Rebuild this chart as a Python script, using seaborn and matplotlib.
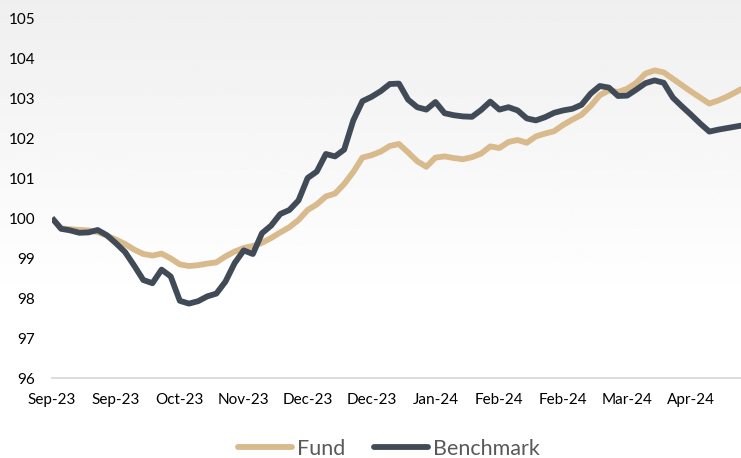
import numpy as np
import pandas as pd
import matplotlib
matplotlib.use("Agg")
import matplotlib.pyplot as plt
import matplotlib.dates as mdates
import seaborn as sns

fund = [100.00, 99.74, 99.72, 99.70, 99.69, 99.65, 99.56, 99.46, 99.35, 99.21,
        99.10, 99.06, 99.11, 98.99, 98.84, 98.80, 98.82, 98.86, 98.89, 99.04,
        99.16, 99.25, 99.30, 99.38, 99.50, 99.64, 99.77, 99.95, 100.20, 100.34,
        100.54, 100.61, 100.85, 101.15, 101.51, 101.57, 101.66, 101.80, 101.85, 101.64,
        101.42, 101.28, 101.51, 101.54, 101.50, 101.47, 101.52, 101.61, 101.79, 101.75,
        101.90, 101.95, 101.88, 102.04, 102.11, 102.17, 102.33, 102.46, 102.58, 102.80,
        103.07, 103.19, 103.15, 103.23, 103.38, 103.61, 103.69, 103.64, 103.48, 103.32,
        103.16, 103.01, 102.86, 102.94, 103.04, 103.16, 103.29]
benchmark = [100.00, 99.73, 99.69, 99.63, 99.64, 99.70, 99.57, 99.37, 99.15, 98.81,
             98.45, 98.37, 98.71, 98.54, 97.93, 97.86, 97.92, 98.04, 98.11, 98.41,
             98.87, 99.19, 99.10, 99.62, 99.81, 100.10, 100.20, 100.44, 101.00, 101.16,
             101.60, 101.54, 101.71, 102.44, 102.92, 103.03, 103.17, 103.35, 103.36, 102.96,
             102.77, 102.71, 102.90, 102.62, 102.57, 102.54, 102.53, 102.70, 102.91, 102.71,
             102.77, 102.69, 102.49, 102.44, 102.52, 102.63, 102.69, 102.73, 102.83, 103.11,
             103.30, 103.26, 103.05, 103.06, 103.21, 103.37, 103.44, 103.38, 103.01, 102.79,
             102.58, 102.36, 102.16, 102.21, 102.25, 102.29, 102.33]
dates = pd.date_range("2023-09-08", periods=len(fund), freq="3D")
series_names = ["Fund", "Benchmark"]
colors = ["#D8BA8D", "#414B58"]

df = pd.DataFrame({"Date": dates, "Fund": fund, "Benchmark": benchmark})
long = df.melt(id_vars="Date", var_name="Series", value_name="Value")

sns.set_theme(style="white")
plt.rcParams["font.family"] = ["Lato", "DejaVu Sans"]

fig = plt.figure(figsize=(7.41, 4.58), dpi=100)

# soft grey-to-white background
bg = fig.add_axes([0, 0, 1, 1], zorder=-1)
grad = np.clip(0.937 + (1 - 0.937) * np.linspace(0, 1, 300) / 0.655, 0, 1)
bg.imshow(np.repeat(grad[:, None], 2, axis=1), cmap="gray", vmin=0, vmax=1,
          aspect="auto", extent=[0, 1, 0, 1])
bg.axis("off")

ax = fig.add_axes([52 / 741, 80 / 458, 1 - 52 / 741, (378 - 18) / 458])
ax.set_facecolor("none")
sns.lineplot(data=long, x="Date", y="Value", hue="Series", hue_order=series_names,
             palette=colors, linewidth=4.2, ax=ax, legend=False)
for ln in ax.lines:
    ln.set_solid_joinstyle("round")
    ln.set_solid_capstyle("butt")

start = dates[0]
ax.set_xlim(start, start + pd.Timedelta(days=226.4))
ax.set_ylim(96, 105)
ax.set_yticks(range(96, 106))
ax.set_xticks(pd.date_range(start, periods=11, freq="21D"))
ax.xaxis.set_major_formatter(mdates.DateFormatter("%b-%y"))
ax.set_xlabel("")
ax.set_ylabel("")
ax.grid(False)
for s in ["top", "right", "left"]:
    ax.spines[s].set_visible(False)
ax.spines["bottom"].set_color("#D9D9D9")
ax.spines["bottom"].set_linewidth(1.3)
ax.tick_params(axis="x", colors="#D9D9D9", length=5, width=1.3, pad=6,
               labelcolor="#000000", labelsize=11)
ax.tick_params(axis="y", length=0, pad=12, labelcolor="#000000", labelsize=11)

handles = [plt.Line2D([], [], color=c, linewidth=4.2, solid_capstyle="round") for c in colors]
fig.legend(handles, series_names, loc="center", bbox_to_anchor=(0.525, 1 - 449 / 458),
           ncol=2, frameon=False, fontsize=15.5, handlelength=2.5, handletextpad=0.25,
           columnspacing=1.3, labelcolor="#595959")

fig.savefig("out.png", dpi=100)
